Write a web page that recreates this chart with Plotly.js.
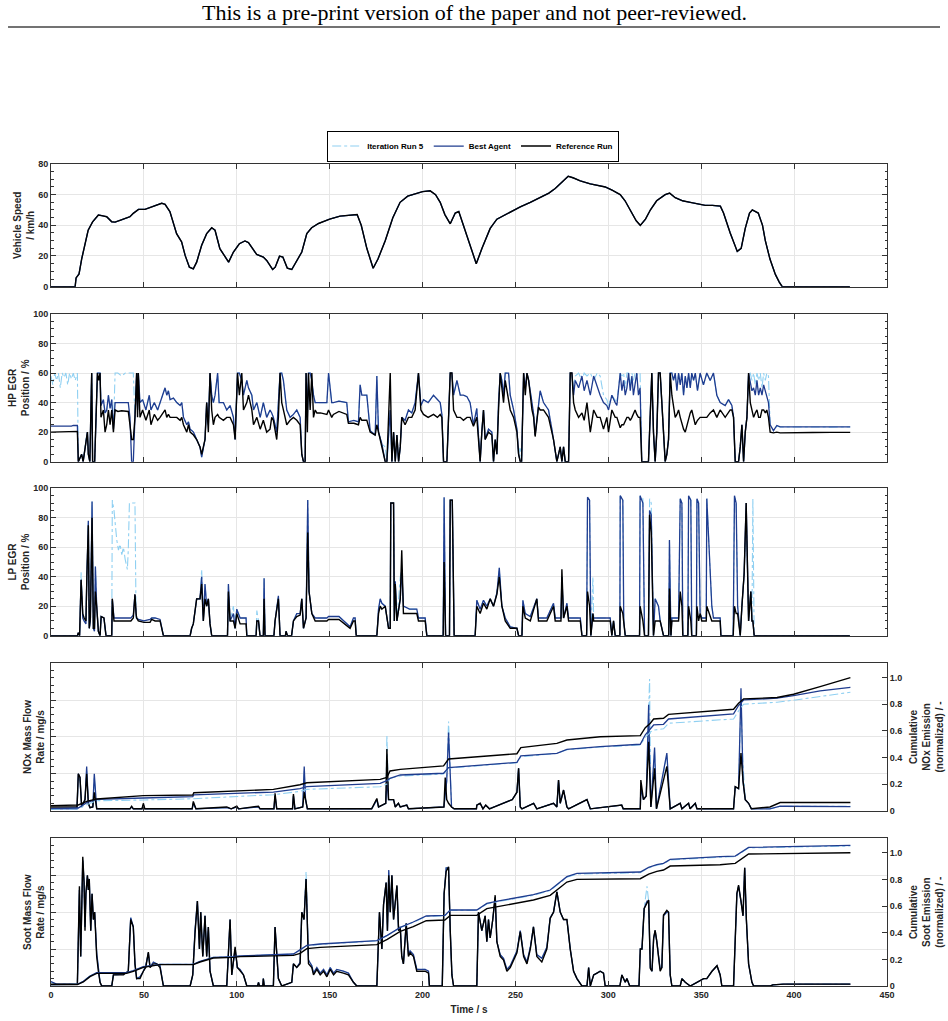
<!DOCTYPE html>
<html>
<head>
<meta charset="utf-8">
<script src="https://cdn.plot.ly/plotly-3.0.1.min.js"></script>
<style>html,body{margin:0;padding:0;background:#fff;}#chart{width:948px;height:1021px;}</style>
</head>
<body>
<div id="chart"></div>
<script>
// ---------------- DATA (time / s) ----------------
const seriesNames = ['Iteration Run 5', 'Best Agent', 'Reference Run'];
const xTicks = [0, 50, 100, 150, 200, 250, 300, 350, 400, 450];
const cumTickVals = [0, 0.2, 0.4, 0.6, 0.8, 1.0];
const cumTickText = ['0', '0.2', '0.4', '0.6', '0.8', '1.0'];

// vehicle speed [t, km/h] (identical for all runs)
const speedData = [[0,0],[13,0],[13.5,5.7],[15.1,8.3],[16.5,18],[18.3,28],[20,36.8],[22.4,42.3],[25.5,46.7],[27.3,46.3],[30,45.6],[32.7,42.3],[34.5,42.1],[37.1,43.2],[39.8,44.5],[42.5,45.6],[44.3,47.8],[47.1,50.4],[50.6,50.4],[53.3,51.7],[56.9,53.3],[59.6,54.4],[61.4,53.7],[64,48.9],[67.6,34.6],[70.3,29.2],[72.2,20.4],[74.5,12.7],[76.6,11.6],[78.4,16],[81.1,27],[83.8,34.6],[86.5,38.4],[88.3,36.8],[90.9,24.8],[93.6,19.3],[95.6,16],[98.2,22.6],[101.4,28],[104.4,29.8],[106.3,28.7],[110.7,21],[114.3,19.3],[116.1,17.1],[119.3,11.2],[120.7,12.7],[123,19.9],[124.8,19.3],[127.2,12.1],[129.6,11.2],[132.3,17.1],[135,22.6],[137.7,34.6],[140.3,38.4],[144,41.2],[150,44],[155.6,46],[160,46.5],[164.8,47],[167,40],[170,25],[173.4,12],[176,18],[179.9,30],[184,45],[187.9,55],[192,59],[196,60.5],[200,62],[204.1,62.5],[207,60],[209.5,55],[212,47],[214.9,41],[217.6,48],[219.5,49],[222,40],[225,28],[228.9,15],[232,25],[236.4,38],[240,44],[244.5,47],[248,49],[252.6,52],[258,55],[263.3,58],[268,61],[271.4,64],[275,68],[278.4,72],[281,71],[284.9,69],[290.3,67],[294,66],[298.3,65],[302,63],[306.4,60],[309,56],[311.8,50],[315,43],[317.2,40],[320,44],[322.6,50],[326,56],[330.6,60],[333,61],[336,58],[340,56],[344.1,55],[348,54],[352.2,53],[356,53],[360.3,52.5],[362,48],[365.6,35],[369.4,23],[371.5,25],[373.7,38],[376,48],[377.5,50],[380.7,48],[383,40],[384.5,30],[387,18],[389.9,8],[392,3],[393.6,0],[430,0]];

// HP EGR position [t, reference, best agent, iteration 5] in %
const hpData = [[0,20,24,58],[1,20,24,52],[2,20.5,23.5,60],[3,20,24,55],[4,20,24,60],[5,20,23.5,50],[6,20,24,60],[7,20.5,24,57],[8,20,23.5,60],[9,20,24,52],[10,20,24,60],[11,20,24,56],[12,20.5,24.5,60],[13,20.5,24.5,55],[14.2,20.5,24.5,60],[14.7,0,0,0],[16.5,5,5,5],[17.3,0,0,0],[18.8,15,15,15],[19.6,20,20,20],[20.1,5,5,5],[20.9,0,0,0],[21.9,60,60,60],[22.4,0,0,0],[23.5,0,0,0],[24.2,30,35,35],[25,60,60,60],[25.7,55,60,60],[26.4,60,60,60],[26.9,30,38,38],[28.2,35,42,42],[29.1,20,33,33],[30,25,35,35],[30.9,35,45,45],[31.8,25,36,36],[32.7,35,42,42],[33.6,20,22,22],[34.5,35,40,60],[36,34,40,60],[38,34.5,40.5,58],[40,34,40,60],[41.6,34,40,60],[42.5,25,30,60],[43.4,15,0,60],[44.3,15,0,60],[45.2,30,30,30],[46.1,60,60,60],[46.6,30,35,35],[47,60,60,60],[47.9,30,40,40],[49.3,35,42,42],[51.1,28,35,35],[52.9,35,45,45],[53.8,25,35,35],[55.6,32,40,40],[57.4,28,35,35],[58.7,30,40,40],[61.4,35,50,50],[62.3,30,45,45],[63.2,32,48,48],[64.1,30,42,42],[65.9,30,43,43],[67.7,30,40,40],[69.5,28,38,38],[70.4,30,40,40],[71.3,25,30,30],[73.1,20,25,25],[74,25,27,27],[74.9,20,22,22],[76.7,18,20,20],[78.4,15,15,15],[80.2,10,10,10],[81.1,5,3,3],[82,10,10,10],[82.9,15,15,15],[83.8,40,40,40],[84.7,20,25,25],[85.6,60,60,60],[86.5,35,45,45],[87.4,25,40,40],[88.3,30,45,45],[89.7,32,60,60],[90.5,30,40,40],[92.8,28,40,40],[94.6,30,35,35],[96.4,30,38,38],[98.2,25,30,30],[99.1,15,15,15],[100.4,60,60,60],[101.4,45,60,60],[102.7,60,55,55],[103.6,35,45,45],[105.4,40,55,55],[106.3,45,50,50],[108.1,35,45,45],[109,25,35,35],[110.8,30,40,40],[112.6,22,30,30],[114.3,28,40,40],[116.1,20,30,30],[117.9,22,35,35],[118.8,30,33,33],[119.7,28,30,30],[121.5,15,20,20],[122.4,30,40,40],[123.3,60,60,60],[124.2,40,60,60],[125.1,35,55,55],[126.9,25,35,35],[128.7,28,30,30],[130.5,30,32,32],[132.3,28,35,35],[134.1,25,30,30],[135,5,5,5],[135.9,0,0,0],[136.8,0,0,0],[137.3,60,60,60],[138,20,30,30],[138.6,60,60,60],[139.5,35,60,60],[140.4,60,55,55],[141.3,30,45,45],[142.2,35,40,40],[143.1,33,40,40],[145,33,40,40],[148.5,32,40,40],[149.4,35,60,60],[151.1,30,40,40],[152,32,40,40],[155,34,41,41],[159.2,32,40,40],[160.1,26,27,27],[163,26,28,28],[165.5,25,27,27],[166.4,30,52,52],[167.3,28,45,45],[170,28,45,45],[171.8,20,21,21],[174.5,18,18,18],[175.4,25,58,58],[176.3,20,20,20],[178.1,12,12,12],[179.9,0,0,10],[180.8,0,0,0],[182.6,60,35,35],[183.5,0,0,0],[184.4,20,20,20],[185.3,0,0,0],[186.2,18,18,18],[187.1,0,0,0],[188,10,10,10],[188.8,30,30,30],[190.6,25,28,28],[192.4,30,35,35],[194.2,30,33,33],[196,35,40,40],[197.8,60,60,60],[199.1,35,38,38],[200.5,32,42,42],[203,30,40,40],[205.9,32,45,45],[208,30,42,42],[209.5,32,40,40],[210.4,30,32,32],[211.3,0,0,0],[213.1,0,0,0],[214,30,30,30],[214.9,60,60,60],[215.8,60,60,60],[216.7,35,45,45],[218.5,30,55,55],[220.3,30,45,45],[222,28,45,45],[223.9,30,44,44],[225.6,30,40,40],[227.4,24,25,25],[229.2,30,36,36],[231,0,0,0],[231.9,20,20,20],[232.8,35,35,35],[233.7,15,15,15],[235.5,20,22,22],[237.3,18,20,20],[238.2,0,0,0],[239.1,15,15,15],[240,5,5,5],[240.9,35,40,40],[241.8,60,60,60],[242.7,50,55,55],[243.6,40,45,45],[244.5,55,60,60],[246.3,40,60,60],[247.2,35,45,45],[249,30,35,35],[250.8,20,22,22],[251.7,5,5,5],[252.6,0,0,10],[253.3,0,0,0],[254.4,60,60,60],[255.3,45,50,50],[256.2,60,60,60],[257.1,55,55,55],[258.9,35,40,40],[259.8,30,32,32],[260.6,17,18,18],[262.4,37,40,40],[263.3,35,48,48],[265.1,35,40,40],[267.8,30,35,35],[269.6,20,22,22],[270.5,15,15,15],[272.3,0,0,0],[274.1,10,10,10],[275,0,0,0],[275.9,10,10,10],[276.8,0,0,0],[278.6,0,0,0],[279.5,60,60,60],[280.4,60,60,60],[281.3,40,45,50],[282.2,35,55,58],[284,30,50,60],[285.8,33,58,55],[287,28,48,60],[288.5,40,55,58],[290.3,20,45,60],[292.1,35,58,55],[294,30,50,60],[295.6,30,45,58],[297.4,22,40,45],[299.2,30,38,42],[300.1,20,35,38],[301.9,35,45,45],[303.7,30,40,42],[304.6,30,38,40],[306.4,23,60,60],[307.3,25,48,58],[308.2,25,55,60],[309.1,28,45,50],[310,30,50,60],[310.9,30,60,60],[311.8,28,48,52],[312.7,30,58,60],[313.5,32,45,55],[314.4,35,52,60],[315.3,32,60,58],[316.2,30,45,60],[317.1,30,50,60],[318,0,0,0],[321.6,0,0,0],[322.5,30,30,30],[323.4,60,60,60],[324.3,20,20,20],[325.2,0,0,0],[326.1,20,20,20],[327,60,60,60],[327.9,60,60,60],[328.8,35,35,35],[329.7,20,20,20],[330.6,0,0,0],[331.5,5,5,5],[332.4,15,15,15],[333.3,60,60,60],[334.2,45,60,60],[335.1,38,55,55],[336,30,60,60],[336.9,32,48,48],[337.8,35,60,60],[338.7,30,52,52],[339.6,25,60,60],[340.5,22,45,45],[341.4,20,58,58],[342.3,25,50,50],[343.2,30,60,60],[344.1,33,50,50],[344.9,35,60,60],[345.9,30,55,55],[346.8,25,60,60],[348,28,48,48],[349.4,30,60,60],[351.2,30,52,52],[353,30,60,60],[354.8,33,55,55],[356.6,35,60,60],[358.4,30,45,45],[360.2,35,40,40],[362.9,30,38,38],[364.7,33,42,42],[365.6,35,40,40],[366.5,35,38,38],[367.4,30,30,30],[368.3,0,0,0],[370.1,0,0,0],[371,10,10,10],[371.9,25,25,25],[372.8,0,0,0],[373.7,20,20,20],[374.6,30,30,30],[375.5,60,60,60],[376.4,40,55,60],[377.3,35,48,55],[378.2,30,50,60],[379.1,33,45,52],[380,35,55,60],[380.9,30,45,55],[381.8,30,50,60],[382.7,35,45,50],[383.6,35,52,60],[384.5,33,48,55],[385.3,35,45,60],[386.2,30,40,58],[387.1,20,25,25],[388.9,19.5,21,21],[390.7,20,24.5,24],[392.5,19.5,23.5,23.5],[400,19.8,23.6,23.3],[410,19.7,23.4,23.5],[420,19.8,23.6,23.4],[430.2,19.8,23.5,23.5]];

// LP EGR position [t, reference, best agent, iteration 5] in %
const lpData = [[0,0,0,0],[14.2,0,0,0],[14.7,2,2,2],[15.4,0,0,0],[16.2,38,38,43],[17.1,15,12,15],[17.8,12,10,12],[18.8,10,8,10],[19.3,40,40,40],[20.1,75,78,78],[20.6,5,5,5],[21.2,12,10,10],[22.1,80,91,91],[22.8,5,5,5],[23.4,5,3,3],[23.9,30,47,47],[24.6,20,20,20],[25.5,3,3,3],[26.4,0,0,0],[27,13,13,13],[28.5,12,12,12],[29.6,0,0,0],[32.7,0,0,0],[33,25,25,92],[33.9,10,12,85],[34.5,10,12,75],[35.4,10,12,65],[36.3,10,12,58],[37.2,10,12,62],[38.1,10,12,55],[39,10,12,60],[39.9,10,12,52],[41.1,10,12,45],[41.6,10,12,58],[42.2,10,12,90],[43,10,12,90],[44.3,12,14,90],[45.2,28,28,90],[45.8,15,15,12],[46.1,12,12,12],[47,10,11,11],[50,9,10,10],[53.3,9,11,11],[54.2,11,12,12],[56,10,12,12],[58.7,10,11,11],[60.5,0,0,0],[74.9,0,0,0],[75.7,5,5,5],[76.6,8,8,8],[78.4,25,25,25],[80.2,25,25,25],[81.1,35,40,45],[82,10,10,10],[82.9,25,35,35],[83.8,20,20,20],[84.7,25,25,25],[85.6,8,8,8],[86.5,0,0,0],[95,0,0,0],[95.5,30,35,35],[96.4,10,10,10],[98.2,10,15,20],[99.1,5,5,5],[100,15,18,18],[101.8,8,12,12],[105,8,12,12],[105.4,0,0,0],[110.4,0,0,0],[110.8,10,10,17],[111.7,10,10,10],[112.5,0,0,0],[114.3,0,0,0],[114.7,25,39,39],[115.2,0,0,0],[120,0,0,0],[120.6,10,10,10],[122.4,25,27,27],[123.3,0,0,0],[126.2,0,0,0],[126.5,3,3,3],[127.3,0,0,0],[129.5,0,0,0],[130.5,10,10,10],[132.3,13,15,15],[134.1,14,15,15],[135,25,25,25],[135.9,5,5,5],[137.3,12,12,12],[138.2,70,92,92],[138.9,30,30,30],[140.4,15,15,15],[142.2,10,12,12],[148.5,10,12,12],[149.4,11,13,13],[155,11,13,13],[161,5,6,6],[162.8,10,12,12],[163.7,10,12,12],[164.3,0,0,0],[175.4,0,0,0],[176.3,15,18,18],[177.2,20,25,25],[178.1,18,22,22],[179.9,20,20,20],[181.7,5,5,5],[182.6,5,5,5],[182.9,90,90,90],[184.4,90,90,90],[184.8,10,10,10],[185.3,35,37,37],[186.2,10,10,10],[188,25,25,40],[188.8,58,45,45],[189.7,15,20,20],[193,15,18,18],[196.9,15,18,18],[197.8,10,12,12],[201.4,10,12,12],[202.3,0,0,0],[211.1,0,0,0],[211.6,50,94,94],[212.4,0,0,0],[214.5,0,0,0],[214.9,92,92,92],[216,92,92,92],[217,0,0,0],[228.3,0,0,0],[229.2,20,24,24],[231,15,18,18],[232.8,22,24,24],[234.6,18,20,20],[236.4,25,25,25],[238.2,20,20,20],[240,28,29,29],[241.3,40,46,46],[242.7,20,20,20],[244.5,10,12,12],[247.2,5,6,6],[250.8,5,5,5],[251.7,0,0,0],[253.5,0,0,0],[254,20,24,24],[255.3,12,15,15],[258,10,13,13],[261.5,25,25,25],[262.4,10,12,12],[266.9,10,12,12],[270.5,20,22,22],[271.4,10,12,12],[274.5,10,12,12],[275,45,40,40],[275.9,12,12,12],[277.7,20,22,22],[278.6,10,12,12],[284.9,10,12,12],[285.8,0,0,0],[288.3,0,0,0],[288.8,30,94,94],[289.9,20,92,92],[290.6,0,0,0],[291.7,15,15,40],[292.1,10,12,12],[301,10,12,12],[301.9,0,0,0],[302.8,10,10,10],[303.7,0,0,0],[306.2,0,0,0],[306.4,20,95,95],[307.8,15,92,92],[308.3,10,10,10],[309.1,0,0,0],[316.8,0,0,0],[317.1,20,95,95],[318.6,10,90,93],[319.5,0,0,0],[321.6,0,0,0],[322.2,82,85,93],[323.1,70,82,90],[324.3,0,0,0],[325.2,10,25,25],[327,10,20,20],[327.9,10,10,10],[329.7,0,0,0],[332.5,0,0,0],[332.9,32,65,65],[333.7,0,0,0],[334.2,10,12,12],[337.8,10,12,12],[338.7,30,93,93],[339.6,20,90,90],[340.1,0,0,0],[342.8,0,0,0],[343.2,20,95,95],[344.4,10,92,92],[344.9,0,0,0],[347.4,0,0,0],[347.7,20,93,93],[348.6,10,90,90],[349.4,15,15,15],[350.3,10,12,12],[352.7,10,12,12],[353,20,93,93],[355.7,10,20,20],[356.6,10,12,12],[360.2,10,12,12],[360.6,0,0,0],[367.2,0,0,0],[367.9,20,95,95],[368.8,15,90,90],[369.6,15,20,20],[371,0,0,0],[371.9,20,20,20],[373.1,42,42,42],[374.2,90,90,85],[375.5,10,10,10],[376.7,30,30,30],[377.3,10,10,10],[377.8,10,10,93],[378.3,0,0,30],[378.5,0,0,0],[430,0,0,0]];

// NOx mass flow (left axis, arbitrary 0..4) [t, reference, best agent, iteration 5]
const noxData = [[0,0.1,0.05,0.05],[14,0.1,0.05,0.05],[14.7,1.0,1.0,0.9],[15.6,0.9,0.9,0.8],[16.5,0.1,0.1,0.1],[18.3,0.3,0.3,0.3],[19.2,1.0,1.2,1.1],[20.1,0.2,0.2,0.2],[21,0.08,0.08,0.08],[22.5,0.1,0.1,0.1],[23.3,0.5,1.0,0.9],[24.6,0.05,0.05,0.05],[42.5,0.05,0.05,0.05],[43.4,0.12,0.1,0.1],[44.3,0.05,0.05,0.05],[49,0.05,0.05,0.05],[49.7,0.2,0.15,0.15],[50.5,0.05,0.05,0.05],[76,0.05,0.05,0.05],[76.6,0.25,0.2,0.2],[78,0.05,0.05,0.05],[94.6,0.1,0.08,0.08],[97,0.05,0.05,0.05],[100,0.12,0.1,0.1],[101,0.05,0.05,0.05],[111.7,0.12,0.1,0.1],[112.5,0.05,0.05,0.05],[120,0.05,0.05,0.05],[120.6,0.47,0.4,0.4],[121.5,0.05,0.05,0.05],[130,0.05,0.05,0.05],[130.5,0.45,0.4,0.4],[131.3,0.05,0.05,0.05],[135.5,0.1,0.1,0.1],[136.3,0.5,1.2,1.1],[137,0.3,0.3,0.3],[138,0.05,0.05,0.05],[172.6,0.05,0.05,0.05],[173.5,0.15,0.12,0.12],[175.4,0.33,0.3,0.3],[176.3,0.1,0.1,0.1],[180.2,0.2,0.2,0.2],[180.8,1.67,0.8,2.05],[181.7,0.3,0.3,0.3],[184.4,0.3,0.3,0.3],[185.3,0.1,0.1,0.1],[187,0.2,0.2,0.2],[188,0.1,0.1,0.1],[191.5,0.15,0.15,0.15],[192.4,0.05,0.05,0.05],[211.5,0.1,0.1,0.1],[212.2,0.9,0.5,0.5],[213,0.3,0.8,0.8],[214,0.2,2.12,2.42],[215.6,0.1,0.1,0.1],[217,0.05,0.05,0.05],[229,0.05,0.05,0.05],[229.2,0.15,0.15,0.15],[231,0.2,0.2,0.2],[232.5,0.05,0.05,0.05],[234,0.15,0.15,0.15],[236,0.05,0.05,0.05],[248.3,0.3,0.3,0.3],[250.8,0.5,0.5,0.5],[251.7,1.15,1.15,1.15],[252.6,0.1,0.1,0.1],[253.5,0.05,0.05,0.05],[259.8,0.2,0.2,0.2],[261.5,0.05,0.05,0.05],[270.5,0.2,0.2,0.2],[272.3,0.1,0.1,0.1],[273.2,0.83,0.83,0.83],[274.1,0.2,0.2,0.2],[275.9,0.56,0.56,0.56],[277.7,0.1,0.1,0.1],[278.6,0.05,0.05,0.05],[288.5,0.3,0.3,0.3],[290.3,0.05,0.05,0.05],[307.2,0.15,0.15,0.15],[308,0.05,0.05,0.05],[317.2,0.05,0.05,0.05],[317.5,0.83,0.6,0.6],[318.9,0.3,0.3,0.3],[320.4,0.4,0.4,0.4],[321.7,1.87,2.87,2.5],[322.2,1.2,1.5,3.57],[322.9,0.1,0.1,0.1],[324.9,1.15,1.71,1.6],[325.9,0.05,0.05,0.05],[331.5,1.2,1.56,1.5],[333.3,0.05,0.05,0.05],[338.7,0.2,0.2,0.2],[339.6,0.05,0.05,0.05],[343.2,0.2,0.2,0.2],[344,0.05,0.05,0.05],[346.8,0.2,0.2,0.2],[347.7,0.05,0.05,0.05],[367.4,0.05,0.05,0.05],[368.3,0.65,0.65,0.65],[370.1,0.6,0.6,0.6],[371.4,1.56,3.32,3.0],[372.5,0.8,0.8,1.24],[373.7,0.3,0.3,0.3],[375.5,0.2,0.2,0.2],[377,0.05,0.05,0.05],[387,0.1,0.05,0.05],[392.5,0.22,0.12,0.12],[430.3,0.22,0.11,0.12]];

// cumulative NOx (right axis, normalized) [t, reference, best agent, iteration 5]
const noxCumData = [[0,0.038,0.015,0.01],[14.7,0.043,0.02,0.015],[19.2,0.07,0.06,0.045],[22.8,0.085,0.075,0.065],[24.6,0.088,0.085,0.075],[49.7,0.113,0.095,0.08],[76.3,0.118,0.105,0.085],[76.9,0.135,0.118,0.09],[119.7,0.16,0.14,0.12],[134,0.195,0.165,0.145],[137.7,0.21,0.18,0.16],[177.2,0.235,0.205,0.18],[180.8,0.25,0.225,0.2],[182.5,0.298,0.243,0.243],[188,0.31,0.268,0.26],[211.3,0.336,0.281,0.275],[214,0.388,0.323,0.32],[250.8,0.428,0.363,0.36],[252.9,0.474,0.411,0.405],[272.3,0.506,0.431,0.43],[277.7,0.531,0.461,0.458],[295.6,0.556,0.481,0.478],[317.2,0.564,0.499,0.494],[319.9,0.624,0.57,0.55],[322.6,0.657,0.62,0.59],[324.4,0.689,0.644,0.606],[329.7,0.694,0.649,0.615],[332.4,0.724,0.689,0.657],[367.4,0.762,0.727,0.689],[370.1,0.807,0.79,0.75],[372.8,0.84,0.832,0.8],[390.8,0.85,0.845,0.815],[399.7,0.875,0.865,0.83],[414,0.932,0.9,0.86],[430.3,1.0,0.927,0.89]];

// soot mass flow (left axis, arbitrary 0..4) [t, reference, best agent, iteration 5]
const sootData = [[0,0.05,0.12,0.1],[3,0.05,0.05,0.05],[14.2,0.05,0.05,0.05],[15.3,2.7,2.6,2.6],[16,0.8,0.8,0.8],[17.1,3.5,3.4,3.4],[17.8,2.8,2.8,2.8],[18.3,1.5,1.6,1.6],[18.8,2.5,2.5,2.5],[19.6,3.0,3.0,3.0],[20.1,2.6,2.6,2.6],[20.6,2.9,2.9,2.9],[21.4,1.5,1.5,1.5],[22.1,2.5,2.5,2.5],[22.8,1.8,1.8,1.8],[23.5,2.0,2.0,2.0],[24.6,0.8,0.9,0.9],[25.5,0.4,0.4,0.4],[26.4,0.1,0.1,0.1],[27.3,0,0,0],[32.7,0,0,0],[33.6,0.3,0.3,0.3],[39,0.3,0.32,0.32],[41.6,0.4,0.4,0.4],[42.9,1.8,1.85,1.85],[44.3,1.6,1.6,1.6],[45.2,0.6,0.6,0.6],[46.1,0.2,0.2,0.2],[47.9,0.2,0.25,0.25],[49.7,0.4,0.4,0.4],[51,0.5,0.55,0.55],[52.4,0.92,0.9,0.9],[53.3,0.5,0.5,0.5],[55.1,0.6,0.65,0.65],[56.9,0.6,0.6,0.6],[58.7,0.5,0.55,0.55],[60.5,0,0,0],[74.9,0,0,0],[76.3,0.3,0.3,0.3],[77.5,1.4,1.5,1.5],[78.8,2.3,2.3,2.3],[79.9,1.0,1.0,1.0],[80.6,2.0,2.0,2.0],[81.7,0.8,0.8,0.8],[82.9,1.9,1.9,1.9],[83.8,0.8,0.8,0.8],[84.7,1.6,1.6,1.6],[85.6,0.4,0.4,0.4],[87.4,0,0,0],[94.6,0,0,0],[96.4,1.8,1.8,1.8],[97.3,0.3,0.3,0.3],[99.1,1.06,1.0,1.0],[100.3,0.5,0.5,0.5],[101.8,0.4,0.45,0.45],[103.6,0.3,0.3,0.3],[105.4,0,0,0],[111.2,0,0,0],[111.7,0.1,0.1,0.1],[112.2,0,0,0],[114,0,0,0],[114.3,0.2,0.2,0.2],[114.8,0,0,0],[119.7,0,0,0],[120.6,1.6,1.6,1.6],[122.4,0.2,0.2,0.2],[124.2,0,0,0],[129.6,0.1,0.1,0.1],[130.5,0.6,0.6,0.6],[132.3,0.5,0.5,0.5],[134.1,0.6,0.65,0.65],[135,2.0,2.0,2.0],[136.2,1.8,1.8,1.8],[137.3,2.9,2.9,3.1],[138.6,0.6,0.7,0.7],[140.4,0.5,0.55,0.55],[141.3,0.3,0.35,0.35],[143.1,0.45,0.5,0.5],[144.9,0.3,0.35,0.35],[146.7,0.4,0.45,0.45],[148.5,0.25,0.3,0.3],[150.3,0.45,0.5,0.5],[152.1,0.3,0.35,0.35],[153.8,0.4,0.45,0.45],[157.4,0.35,0.4,0.4],[160.1,0.3,0.35,0.35],[162.8,0.1,0.1,0.1],[164.6,0,0,0],[175.4,0,0,0],[176.8,2.0,2.0,2.0],[178.1,1.0,1.0,1.0],[179,2.2,2.2,2.2],[180.4,2.8,2.8,2.8],[181.1,1.5,1.5,1.5],[181.8,3.0,3.14,3.14],[182.6,2.0,2.0,2.0],[183.5,3.0,3.0,3.0],[184.4,1.8,1.8,1.8],[186.2,2.73,2.7,2.7],[187.1,1.5,1.5,1.5],[188,1.6,1.6,1.6],[188.8,0.8,0.8,0.8],[189.7,0.6,0.6,0.6],[191.2,1.69,1.7,1.7],[192.4,0.8,0.85,0.85],[193.3,0.9,0.95,0.95],[195.1,0.8,0.85,0.85],[196.9,0.4,0.45,0.45],[198.7,0.4,0.45,0.45],[201.4,0.4,0.45,0.45],[203.2,0.35,0.4,0.4],[203.7,0,0,0],[210.6,0,0,0],[211.6,2.5,2.5,2.5],[212.7,3.1,3.2,3.2],[214,3.23,3.2,3.2],[214.9,1.5,1.5,1.5],[215.8,0.3,0.3,0.3],[216.7,0,0,0],[229.2,0,0,0],[230.1,2.0,2.0,2.0],[231.9,1.5,1.5,1.5],[233.7,1.9,1.9,1.9],[234.6,1.2,1.2,1.2],[235.5,1.8,1.8,1.8],[236.4,1.3,1.3,1.3],[237.8,1.8,1.8,1.8],[239.1,2.46,2.4,2.4],[240,1.2,1.2,1.2],[241.8,0.8,0.85,0.85],[243.6,0.7,0.75,0.75],[245.4,0.4,0.45,0.45],[247.2,0.5,0.55,0.55],[250.8,0.9,0.95,0.95],[252.6,1.47,1.5,1.5],[254.4,0.8,0.85,0.85],[256.2,0.6,0.65,0.65],[258,1.0,1.05,1.05],[259.7,1.6,1.6,1.6],[261.5,0.8,0.85,0.85],[264.2,0.65,0.75,0.75],[266.9,1.0,1.05,1.05],[268.7,1.83,1.85,1.85],[270.5,2.0,2.0,2.0],[272.3,2.55,2.55,2.55],[274.1,2.0,2.0,2.0],[275.9,1.8,1.8,1.8],[277.7,1.8,1.8,1.8],[279.5,1.0,1.0,1.0],[281.3,0.4,0.4,0.4],[283.1,0.2,0.2,0.2],[285.8,0,0,0],[288.5,0,0,0],[289.4,0.5,0.5,0.5],[290.3,0,0,0],[292.1,0.3,0.3,0.3],[293.9,0.35,0.35,0.35],[295.6,0.4,0.4,0.4],[297.4,0.35,0.35,0.35],[298.3,0,0,0],[306.2,0,0,0],[307.3,0.3,0.3,0.3],[309.1,0.1,0.1,0.1],[310,0.2,0.2,0.2],[311.5,0,0,0],[316.5,0,0,0],[317.2,1.0,1.0,1.0],[318.1,1.0,1.0,1.0],[319.3,2.1,2.1,2.1],[320.8,2.23,2.3,2.7],[321.7,2.33,2.3,2.3],[322.6,0.47,0.5,0.5],[323.5,0.4,0.4,0.4],[324.4,1.3,1.3,1.3],[325.2,1.51,1.5,1.5],[326.1,1.2,1.2,1.2],[327.9,0.4,0.45,0.45],[328.8,0.5,0.5,0.5],[329.7,1.92,1.9,1.9],[331.5,2.05,2.0,2.0],[332.4,2.0,2.0,2.0],[333.3,0.3,0.3,0.3],[334.2,0,0,0],[338.7,0,0,0],[339.6,0.2,0.2,0.2],[341.4,0.1,0.1,0.1],[344.1,0,0,0],[347.7,0.1,0.1,0.1],[351.3,0.2,0.2,0.2],[353,0.2,0.2,0.2],[355.8,0.4,0.4,0.4],[358.5,0.55,0.55,0.55],[360.2,0.3,0.3,0.3],[361.1,0,0,0],[367.4,0,0,0],[369.2,2.5,2.5,2.5],[370.1,2.73,2.7,2.7],[371.4,2.3,2.3,2.3],[372.5,1.9,1.9,1.9],[373.4,3.2,3.2,3.2],[374.3,1.8,1.8,1.8],[375.5,0.6,0.6,0.6],[377.3,0.1,0.1,0.1],[378.2,0,0,0],[387.2,0,0,0],[388.5,0.03,0.03,0.03],[394.4,0.05,0.05,0.05],[430.3,0.05,0.05,0.05]];

// cumulative soot (right axis, normalized) [t, reference, best agent, iteration 5]
const sootCumData = [[0,0.01,0.01,0.01],[14.2,0.01,0.012,0.012],[17.4,0.03,0.035,0.035],[21,0.07,0.075,0.075],[24.6,0.095,0.1,0.1],[40.7,0.095,0.1,0.1],[44.3,0.11,0.115,0.115],[49.7,0.14,0.145,0.145],[58.7,0.16,0.162,0.162],[76.6,0.16,0.162,0.162],[80.2,0.18,0.185,0.185],[87.4,0.21,0.215,0.215],[98.2,0.215,0.22,0.22],[101.8,0.22,0.225,0.225],[130.5,0.23,0.24,0.24],[134.1,0.245,0.27,0.268],[137.7,0.28,0.305,0.302],[144.9,0.29,0.315,0.312],[175.4,0.31,0.34,0.338],[181,0.35,0.38,0.378],[188,0.41,0.44,0.438],[195,0.445,0.48,0.478],[202,0.49,0.525,0.522],[212,0.495,0.53,0.527],[214.9,0.53,0.57,0.567],[229.2,0.53,0.57,0.567],[234.6,0.58,0.62,0.615],[241.8,0.6,0.64,0.636],[250.8,0.62,0.66,0.656],[259.7,0.645,0.685,0.68],[268.7,0.68,0.72,0.716],[274,0.74,0.78,0.776],[277.7,0.78,0.82,0.816],[283.1,0.8,0.845,0.84],[317.2,0.805,0.855,0.85],[321.7,0.84,0.89,0.886],[326.1,0.86,0.91,0.906],[329.7,0.87,0.92,0.916],[333.3,0.9,0.95,0.946],[360.2,0.91,0.97,0.966],[368.3,0.92,0.975,0.97],[375.5,0.99,1.04,1.036],[430.3,1.0,1.055,1.05]];

// ---------------- STYLE ----------------
const FONT = 'Liberation Sans, Arial, Helvetica, sans-serif';
const styles = [
  {name: seriesNames[0], col: 3, line: {color: '#8fd0f2', width: 1.1, dash: 'dashdot'}},
  {name: seriesNames[1], col: 2, line: {color: '#1f3c8f', width: 1.3}},
  {name: seriesNames[2], col: 1, line: {color: '#000000', width: 1.4}}
];
const col = (rows, i) => rows.map(r => r[i]);

const traces = [];
function addPanel(rows, xa, ya, legend) {
  styles.forEach(s => {
    traces.push({
      type: 'scatter', mode: 'lines', x: col(rows, 0), y: col(rows, s.col),
      xaxis: xa, yaxis: ya, name: s.name, line: s.line,
      showlegend: legend, legendgroup: s.name, hoverinfo: 'skip'
    });
  });
}
// speed: same drive cycle for all three runs
styles.forEach(s => {
  traces.push({type: 'scatter', mode: 'lines', x: col(speedData, 0), y: col(speedData, 1),
    xaxis: 'x', yaxis: 'y', name: s.name, line: s.line, showlegend: true, legendgroup: s.name, hoverinfo: 'skip'});
});
addPanel(hpData, 'x2', 'y2', false);
addPanel(lpData, 'x3', 'y3', false);
addPanel(noxData, 'x4', 'y4', false);
addPanel(noxCumData, 'x4', 'y6', false);
addPanel(sootData, 'x5', 'y5', false);
addPanel(sootCumData, 'x5', 'y7', false);

const AX = '#333333';
const GRID = '#e6e6e6';
const tickFont = {family: FONT, size: 9, color: '#262626', weight: 'bold'};
const titleFont = {family: FONT, size: 10, color: '#262626', weight: 'bold'};

function xAxis(anchor, labels) {
  const a = {anchor: anchor, domain: [0, 1], range: [0, 450], tickvals: xTicks, ticks: 'inside', ticklen: 5,
    tickcolor: AX, showline: true, linecolor: AX, linewidth: 1, mirror: 'ticks', showgrid: true,
    gridcolor: GRID, zeroline: false, showticklabels: labels, tickfont: tickFont};
  if (anchor !== 'y') a.matches = 'x';
  return a;
}
function yAxis(anchor, domain, range, dtick, minorDtick, title, labels, mirror, standoff) {
  return {anchor: anchor, domain: domain, range: range, dtick: dtick, tick0: 0, ticks: 'inside', ticklen: 5,
    tickcolor: AX, showline: true, linecolor: AX, linewidth: 1, mirror: mirror, showgrid: true,
    gridcolor: GRID, zeroline: false, showticklabels: labels, tickfont: tickFont,
    minor: {ticks: 'inside', ticklen: 2.5, dtick: minorDtick, tick0: 0, tickcolor: AX, showgrid: false},
    title: {text: title, font: titleFont, standoff: standoff}};
}
function yRight(overlay, anchor, title) {
  return {overlaying: overlay, anchor: anchor, side: 'right', range: [0, 1.108], tickvals: cumTickVals,
    ticktext: cumTickText, ticks: 'inside', ticklen: 5, tickcolor: AX, showline: true, linecolor: AX,
    linewidth: 1, showgrid: false, zeroline: false, tickfont: tickFont,
    title: {text: title, font: titleFont, standoff: 8}};
}

const layout = {
  width: 948, height: 1021,
  margin: {l: 51, r: 61, t: 100, b: 35},
  paper_bgcolor: '#ffffff', plot_bgcolor: '#ffffff',
  font: {family: FONT, color: '#262626'},
  showlegend: true,
  legend: {orientation: 'h', x: 0.505, y: 0.948, xanchor: 'center', yanchor: 'middle',
    bordercolor: '#000', borderwidth: 1, bgcolor: '#fff', itemwidth: 30, tracegroupgap: 0,
    font: {family: FONT, size: 8, color: '#000', weight: 'bold'}},
  xaxis: xAxis('y', false),
  xaxis2: xAxis('y2', false),
  xaxis3: xAxis('y3', false),
  xaxis4: xAxis('y4', false),
  xaxis5: Object.assign(xAxis('y5', true), {title: {text: 'Time / s', font: titleFont, standoff: 7}}),
  yaxis: yAxis('x', [0.7893, 0.9278], [0, 80], 20, 5, 'Vehicle Speed<br>/ km/h', true, 'ticks', 1),
  yaxis2: yAxis('x2', [0.5918, 0.7585], [0, 100], 20, 5, 'HP EGR<br>Position / %', true, 'ticks', 1),
  yaxis3: yAxis('x3', [0.3954, 0.5617], [0, 100], 20, 5, 'LP EGR<br>Position / %', true, 'ticks', 1),
  yaxis4: yAxis('x4', [0.1979, 0.3643], [0, 4], 1, 0.2, 'NOx Mass Flow<br>Rate / mg/s', false, false, 3),
  yaxis5: yAxis('x5', [0, 0.1667], [0, 4], 1, 0.2, 'Soot Mass Flow<br>Rate / mg/s', false, false, 3),
  yaxis6: yRight('y4', 'x4', 'Cumulative<br>NOx Emission<br>(normalized) / -'),
  yaxis7: yRight('y5', 'x5', 'Cumulative<br>Soot Emission<br>(normalized) / -'),
  annotations: [{text: 'This is a pre-print version of the paper and not peer-reviewed.',
    xref: 'paper', yref: 'paper', x: 0.506, y: 1.0985, xanchor: 'center', yanchor: 'middle',
    showarrow: false, font: {family: 'Liberation Serif, DejaVu Serif, serif', size: 22, color: '#000'}}],
  shapes: [{type: 'line', xref: 'paper', yref: 'paper', x0: -0.0514, x1: 1.0634, y0: 1.0825, y1: 1.0825,
    line: {color: '#444', width: 1.5}}]
};

Plotly.newPlot('chart', traces, layout, {staticPlot: true, displayModeBar: false});
</script>
</body>
</html>
